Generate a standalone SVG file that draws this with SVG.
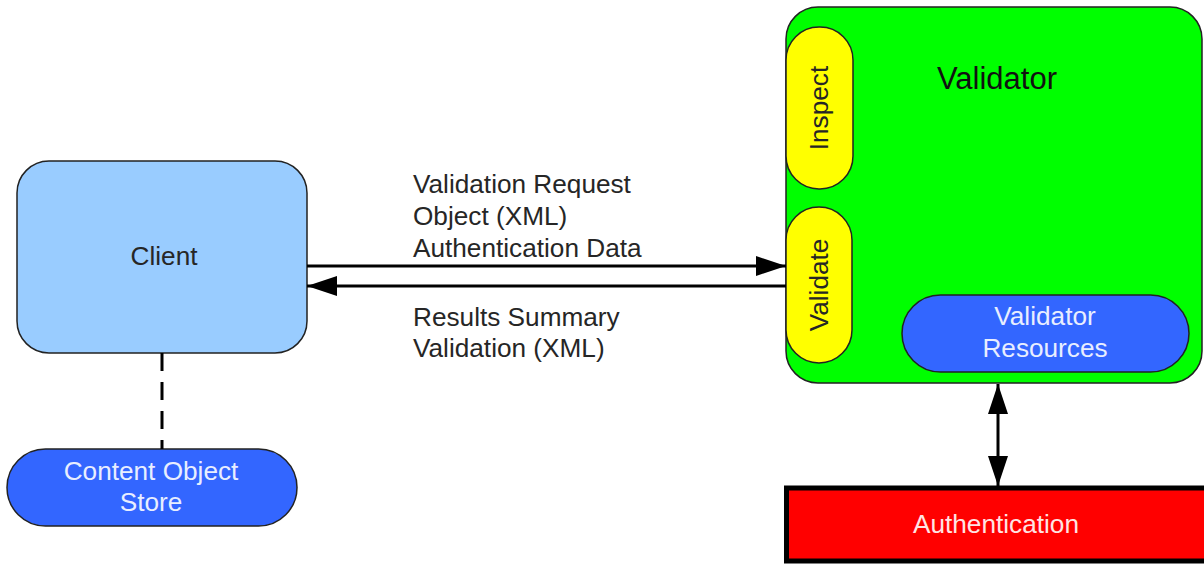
<svg xmlns="http://www.w3.org/2000/svg" width="1204" height="565" viewBox="0 0 1204 565">
  <defs>
    <style>
      text { font-family: "Liberation Sans", Arial, sans-serif; font-size: 26.2px; fill: #262626; }
      .c { text-anchor: middle; }
      .lt { fill: #E8EEFF; }
      .conn { stroke: #000; stroke-width: 3; fill: none; }
      .node { stroke: #222; stroke-width: 1.5; }
    </style>
    <marker id="ah" viewBox="0 0 30 20" refX="30" refY="10" markerWidth="30" markerHeight="20" markerUnits="userSpaceOnUse" orient="auto-start-reverse">
      <path d="M0,0 L30,10 L0,20 Z" fill="#000"/>
    </marker>
  </defs>

  <g id="validator">
    <rect x="786" y="7" width="416" height="376" rx="32" fill="#00FF00" class="node"/>
    <text x="997" y="89" class="c" style="font-size:31px;fill:#111">Validator</text>
  </g>
  <g id="inspect">
    <rect x="786" y="27" width="67" height="162" rx="33" fill="#FFFF00" class="node"/>
    <text transform="translate(828,108) rotate(-90)" class="c">Inspect</text>
  </g>
  <g id="validate">
    <rect x="786" y="207" width="66" height="156" rx="33" fill="#FFFF00" class="node"/>
    <text transform="translate(828,285) rotate(-90)" class="c">Validate</text>
  </g>
  <g id="validator-resources">
    <rect x="902" y="295" width="287" height="77" rx="38.5" fill="#3366FF" class="node"/>
    <text x="1045" y="325" class="c lt">Validator</text>
    <text x="1045" y="357" class="c lt">Resources</text>
  </g>
  <g id="client">
    <rect x="17" y="161" width="290" height="192" rx="32" fill="#99CCFF" class="node"/>
    <text x="164" y="265" class="c">Client</text>
  </g>
  <g id="content-object-store">
    <rect x="7" y="449" width="290" height="77" rx="38.5" fill="#3366FF" class="node"/>
    <text x="151" y="480" class="c lt">Content Object</text>
    <text x="151" y="511" class="c lt">Store</text>
  </g>
  <g id="authentication">
    <rect x="786.5" y="488" width="430" height="73" fill="#FF0000" stroke="#000" stroke-width="5"/>
    <text x="996" y="533" class="c" style="fill:#FFE4E4">Authentication</text>
  </g>

  <g id="connectors">
    <line x1="307" y1="266" x2="786" y2="266" class="conn" marker-end="url(#ah)"/>
    <line x1="786" y1="286" x2="307" y2="286" class="conn" marker-end="url(#ah)"/>
    <line x1="162" y1="353" x2="162" y2="449" class="conn" stroke-dasharray="18,11"/>
    <line x1="998" y1="384" x2="998" y2="486" class="conn" marker-start="url(#ah)" marker-end="url(#ah)"/>
    <text x="413" y="193">Validation Request</text>
    <text x="413" y="225">Object (XML)</text>
    <text x="413" y="257">Authentication Data</text>
    <text x="413" y="326">Results Summary</text>
    <text x="413" y="357">Validation (XML)</text>
  </g>
</svg>
